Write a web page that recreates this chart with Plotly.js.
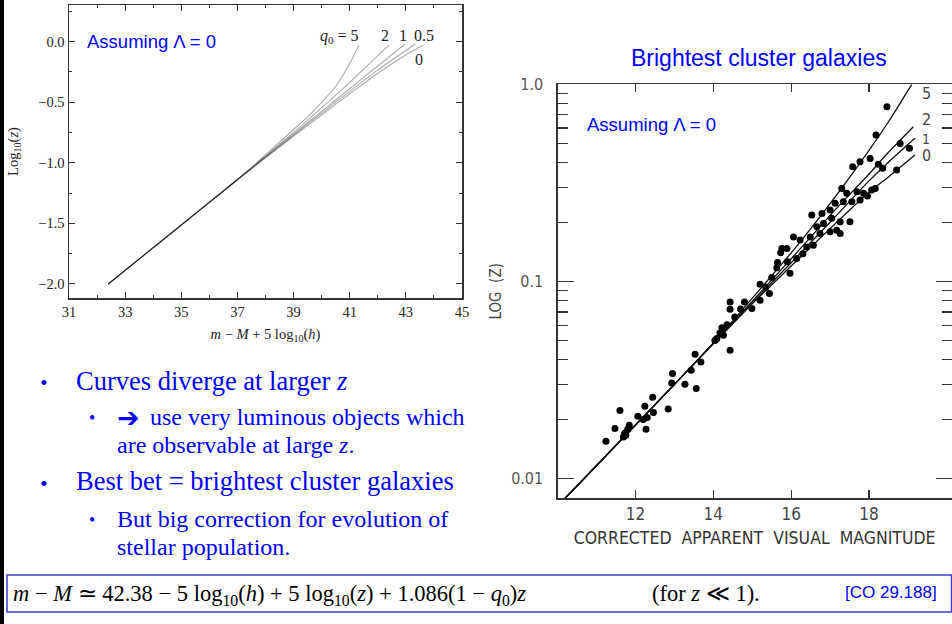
<!DOCTYPE html>
<html>
<head>
<meta charset="utf-8">
<script src="https://cdn.plot.ly/plotly-3.0.1.min.js"></script>
<style>
html,body{margin:0;padding:0;background:#fff;}
#chart{width:952px;height:624px;}
</style>
</head>
<body>
<div id="chart"></div>
<script>
// ---------- LEFT PANEL: log10(z) vs m - M + 5 log10(h) for various q0 ----------
const leftQ0Labels = ['5', '2', '1', '0.5', '0'];
const leftX_q5  = [32.4, 35.0, 37.0, 38.0, 39.0, 39.5, 40.0, 40.5, 41.0, 41.33];
const leftY_q5  = [-2.0, -1.513, -1.138, -0.935, -0.725, -0.62, -0.50, -0.37, -0.18, -0.027];
const leftX_q2  = [32.4, 35.0, 37.0, 38.0, 39.0, 40.0, 41.0, 42.0, 42.40];
const leftY_q2  = [-2.0, -1.513, -1.138, -0.945, -0.750, -0.545, -0.335, -0.115, -0.027];
const leftX_q1  = [32.4, 35.0, 37.0, 38.0, 39.0, 40.0, 41.0, 42.0, 42.97];
const leftY_q1  = [-2.0, -1.513, -1.138, -0.950, -0.763, -0.575, -0.388, -0.201, -0.019];
const leftX_q05 = [32.4, 35.0, 37.0, 38.0, 39.0, 40.0, 41.0, 42.0, 43.33];
const leftY_q05 = [-2.0, -1.513, -1.140, -0.955, -0.772, -0.590, -0.410, -0.235, -0.019];
const leftX_q0  = [32.4, 35.0, 37.0, 38.0, 39.0, 40.0, 41.0, 42.0, 43.0, 43.62];
const leftY_q0  = [-2.0, -1.513, -1.140, -0.958, -0.780, -0.605, -0.430, -0.260, -0.110, -0.027];
const leftXTicks = [31, 33, 35, 37, 39, 41, 43, 45];
const leftYTicks = [-2.0, -1.5, -1.0, -0.5, 0.0];

// ---------- RIGHT PANEL: brightest cluster galaxies ----------
const galMag = [11.24,11.47,11.60,11.69,11.75,11.72,11.84,11.80,12.06,12.20,12.24,12.27,12.44,12.46,12.30,
  12.84,12.95,12.93,13.27,13.43,13.53,13.56,13.68,14.04,14.09,14.17,14.22,14.26,14.43,14.43,14.43,14.35,
  14.55,14.80,14.99,14.70,15.20,15.20,15.44,15.35,15.65,15.73,15.76,15.63,15.97,16.14,15.89,16.06,16.23,
  16.40,16.49,16.57,16.53,16.66,16.74,16.79,16.83,17.00,17.00,17.04,17.13,17.17,17.26,17.26,17.30,17.34,
  17.43,17.51,17.56,17.58,17.69,17.77,17.77,17.86,17.96,18.07,18.03,18.16,18.18,18.24,18.35,18.46,18.71,
  18.80,19.04,15.50,15.90,16.30];
const galLogZ = [-1.810,-1.746,-1.655,-1.789,-1.780,-1.770,-1.729,-1.750,-1.684,-1.700,-1.633,-1.750,-1.587,-1.665,-1.690,
  -1.647,-1.467,-1.515,-1.521,-1.450,-1.369,-1.543,-1.408,-1.300,-1.290,-1.262,-1.235,-1.273,-1.349,-1.104,-1.141,-1.220,
  -1.180,-1.104,-1.137,-1.140,-1.014,-1.095,-1.061,-1.030,-0.904,-0.855,-0.833,-0.930,-0.959,-0.883,-0.833,-0.774,-0.790,
  -0.825,-0.774,-0.816,-0.663,-0.723,-0.757,-0.655,-0.706,-0.638,-0.748,-0.680,-0.604,-0.740,-0.697,-0.757,-0.528,-0.596,
  -0.553,-0.697,-0.596,-0.418,-0.545,-0.393,-0.587,-0.553,-0.567,-0.536,-0.376,-0.528,-0.257,-0.405,-0.426,-0.114,-0.435,
  -0.300,-0.325,-0.980,-0.900,-0.860];
const rightCurveLabels = ['5', '2', '1', '0'];
const curveMag_5 = [10.19, 11.13, 12.0, 13.0, 14.1, 15.0, 16.0, 17.0, 18.0, 18.5, 19.1];
const curveLogZ_5 = [-2.10, -1.907, -1.728, -1.522, -1.290, -1.085, -0.855, -0.605, -0.335, -0.19, 0.0];
const curveMag_2 = [10.19, 11.13, 12.0, 13.0, 14.1, 15.0, 16.0, 17.0, 18.0, 18.5, 19.14];
const curveLogZ_2 = [-2.10, -1.907, -1.728, -1.522, -1.293, -1.100, -0.885, -0.665, -0.455, -0.345, -0.215];
const curveMag_1 = [10.19, 11.13, 12.0, 13.0, 14.1, 15.0, 16.0, 17.0, 18.0, 18.5, 19.18];
const curveLogZ_1 = [-2.10, -1.907, -1.728, -1.522, -1.294, -1.106, -0.905, -0.700, -0.490, -0.395, -0.274];
const curveMag_0 = [10.19, 11.13, 12.0, 13.0, 14.1, 15.0, 16.0, 17.0, 18.0, 18.5, 19.18];
const curveLogZ_0 = [-2.10, -1.907, -1.728, -1.522, -1.296, -1.113, -0.922, -0.732, -0.548, -0.470, -0.359];
const rightXTicks = [12, 14, 16, 18];
const rightYTicks = [0.01, 0.1, 1];
const rightYTickText = ['0.01', '0.1', '1.0'];
const rightYMinor = [0.02,0.03,0.04,0.05,0.06,0.07,0.08,0.09,0.2,0.3,0.4,0.5,0.6,0.7,0.8,0.9];

// ---------- helpers ----------
const W = 952, H = 624;
const px = x => x / W;
const py = y => 1 - y / H;
const toZ = a => a.map(v => Math.pow(10, v));
const BLUE = '#0000ff';
const SERIF = 'Liberation Serif, Times New Roman, serif';
const SANS = 'Liberation Sans, Arial, sans-serif';
const PLOT = 'DejaVu Sans Condensed, DejaVu Sans, sans-serif';

const leftLine = {color: 'rgba(0,0,0,0.33)', width: 1.1, shape: 'spline', smoothing: 0.8};
const rightLine = {color: '#111', width: 1.3, shape: 'spline', smoothing: 0.6};

const traces = [
  {x: leftX_q5, y: leftY_q5, mode: 'lines', line: leftLine, xaxis: 'x', yaxis: 'y', name: 'q0=5'},
  {x: leftX_q2, y: leftY_q2, mode: 'lines', line: leftLine, xaxis: 'x', yaxis: 'y', name: 'q0=2'},
  {x: leftX_q1, y: leftY_q1, mode: 'lines', line: leftLine, xaxis: 'x', yaxis: 'y', name: 'q0=1'},
  {x: leftX_q05, y: leftY_q05, mode: 'lines', line: leftLine, xaxis: 'x', yaxis: 'y', name: 'q0=0.5'},
  {x: leftX_q0, y: leftY_q0, mode: 'lines', line: leftLine, xaxis: 'x', yaxis: 'y', name: 'q0=0'},
  {x: curveMag_5, y: toZ(curveLogZ_5), mode: 'lines', line: rightLine, xaxis: 'x2', yaxis: 'y2', name: '5'},
  {x: curveMag_2, y: toZ(curveLogZ_2), mode: 'lines', line: rightLine, xaxis: 'x2', yaxis: 'y2', name: '2'},
  {x: curveMag_1, y: toZ(curveLogZ_1), mode: 'lines', line: rightLine, xaxis: 'x2', yaxis: 'y2', name: '1'},
  {x: curveMag_0, y: toZ(curveLogZ_0), mode: 'lines', line: rightLine, xaxis: 'x2', yaxis: 'y2', name: '0'},
  {x: galMag, y: toZ(galLogZ), mode: 'markers', marker: {color: '#000', size: 7}, xaxis: 'x2', yaxis: 'y2', name: 'galaxies'}
];

const annotations = [];
function addText(text, x, y, size, family, color, xanchor, extra) {
  annotations.push(Object.assign({
    text: text, xref: 'paper', yref: 'paper', x: px(x), y: py(y),
    xanchor: xanchor || 'left', yanchor: 'middle', showarrow: false,
    font: {size: size, family: family, color: color}
  }, extra || {}));
}
// left panel labels
addText('Assuming Λ = 0', 85, 42, 18.5, SANS, BLUE, 'left');
addText('<i>q</i><sub>0</sub> = 5', 339, 36, 16, SERIF, '#222', 'center');
addText(leftQ0Labels[1], 385, 35, 16, SERIF, '#222', 'center');
addText(leftQ0Labels[2], 403, 35, 16, SERIF, '#222', 'center');
addText(leftQ0Labels[3], 424, 35, 16, SERIF, '#222', 'center');
addText(leftQ0Labels[4], 419, 60, 16, SERIF, '#222', 'center');
// right panel labels
addText('Brightest cluster galaxies', 759, 58, 23, SANS, BLUE, 'center');
addText('Assuming Λ = 0', 585, 125, 18.5, SANS, BLUE, 'left');
addText(rightCurveLabels[0], 926, 93, 16, PLOT, '#444', 'center');
addText(rightCurveLabels[1], 926, 120, 16, PLOT, '#444', 'center');
addText(rightCurveLabels[2], 926, 139, 14, PLOT, '#444', 'center');
addText(rightCurveLabels[3], 926, 155, 16, PLOT, '#444', 'center');
// bullets
addText('•', 44, 382, 22, SERIF, BLUE, 'center');
addText('Curves diverge at larger <i>z</i>', 74, 381, 26.5, SERIF, BLUE, 'left');
addText('•', 92, 418, 18, SERIF, BLUE, 'center');
addText('<b>➔</b>', 115, 417, 27, 'DejaVu Sans, sans-serif', BLUE, 'left');
addText('use very luminous objects which', 148, 417, 24, SERIF, BLUE, 'left');
addText('are observable at large <i>z</i>.', 115, 445, 24, SERIF, BLUE, 'left');
addText('•', 44, 483, 22, SERIF, BLUE, 'center');
addText('Best bet = brightest cluster galaxies', 74, 481, 26.5, SERIF, BLUE, 'left');
addText('•', 92, 520, 18, SERIF, BLUE, 'center');
addText('But big correction for evolution of', 115, 519, 24, SERIF, BLUE, 'left');
addText('stellar population.', 115, 547, 24, SERIF, BLUE, 'left');
// formula
addText('<i>m</i> − <i>M</i> ≃ 42.38 − 5 log<sub>10</sub>(<i>h</i>) + 5 log<sub>10</sub>(<i>z</i>) + 1.086(1 − <i>q</i><sub>0</sub>)<i>z</i>',
  11, 595, 22.5, SERIF, '#000', 'left');
addText('(for <i>z</i> ≪ 1).', 650, 593, 22.5, SERIF, '#000', 'left');
addText('[CO 29.188]', 843, 592, 17, SANS, BLUE, 'left');

const shapes = [
  {type: 'rect', xref: 'paper', yref: 'paper', x0: px(0), x1: px(4), y0: 0, y1: 1,
   fillcolor: '#000', line: {width: 0}},
  {type: 'rect', xref: 'paper', yref: 'paper', x0: px(7), x1: px(951.5), y0: py(612), y1: py(575),
   line: {color: '#3a3ad8', width: 1.5}, fillcolor: 'rgba(0,0,0,0)'}
];

const layout = {
  width: W, height: H,
  margin: {l: 0, r: 0, t: 0, b: 0},
  paper_bgcolor: '#fff', plot_bgcolor: '#fff',
  showlegend: false,
  xaxis: {
    domain: [px(69), px(462)], range: [31, 45], anchor: 'y',
    tickmode: 'array', tickvals: leftXTicks,
    ticks: 'inside', ticklen: 6, tickwidth: 1, tickcolor: '#333',
    minor: {dtick: 1, ticks: 'inside', ticklen: 3, tickcolor: '#333', showgrid: false},
    mirror: 'allticks', showline: true, linecolor: '#333', linewidth: 1.5,
    showgrid: false, zeroline: false,
    tickfont: {family: SERIF, size: 14.5, color: '#222'},
    title: {text: '<i>m</i> − <i>M</i> + 5 log<sub>10</sub>(<i>h</i>)', font: {family: SERIF, size: 14.5, color: '#222'}, standoff: 10}
  },
  yaxis: {
    domain: [py(298), py(5)], range: [-2.116, 0.303], anchor: 'x',
    tickmode: 'array', tickvals: leftYTicks, tickformat: '.1f',
    ticks: 'inside', ticklen: 6, tickwidth: 1, tickcolor: '#333',
    minor: {dtick: 0.25, tick0: 0, ticks: 'inside', ticklen: 3, tickcolor: '#333', showgrid: false},
    mirror: 'allticks', showline: true, linecolor: '#333', linewidth: 1.5,
    showgrid: false, zeroline: false,
    tickfont: {family: SERIF, size: 14.5, color: '#222'},
    title: {text: 'Log<sub>10</sub>(<i>z</i>)', font: {family: SERIF, size: 14.5, color: '#222'}, standoff: 16}
  },
  xaxis2: {
    domain: [px(557.7), px(951.5)], range: [10, 20.12], anchor: 'y2',
    tickmode: 'array', tickvals: rightXTicks,
    ticks: 'inside', ticklen: 8, tickwidth: 1.2, tickcolor: '#333',
    mirror: 'allticks', showline: true, linecolor: '#333', linewidth: 1.3,
    showgrid: false, zeroline: false,
    tickfont: {family: PLOT, size: 17, color: '#444'},
    title: {text: 'CORRECTED  APPARENT  VISUAL  MAGNITUDE', font: {family: PLOT, size: 17.5, color: '#333'}, standoff: 8}
  },
  yaxis2: {
    type: 'log', domain: [py(498.3), py(84.3)], range: [-2.1, 0], anchor: 'x2',
    tickmode: 'array', tickvals: rightYTicks, ticktext: rightYTickText,
    ticks: 'inside', ticklen: 16, tickwidth: 1.2, tickcolor: '#333',
    minor: {tickmode: 'array', tickvals: rightYMinor, ticks: 'inside', ticklen: 10, tickwidth: 1.2, tickcolor: '#333', showgrid: false},
    mirror: 'allticks', showline: true, linecolor: '#333', linewidth: 1.3,
    showgrid: false, zeroline: false,
    tickfont: {family: PLOT, size: 16, color: '#555'},
    ticklabelstandoff: 10,
    title: {text: 'LOG  (Z)', font: {family: PLOT, size: 15, color: '#444'}, standoff: 6}
  },
  annotations: annotations,
  shapes: shapes
};

Plotly.newPlot('chart', traces, layout, {displayModeBar: false, staticPlot: true});
</script>
</body>
</html>
